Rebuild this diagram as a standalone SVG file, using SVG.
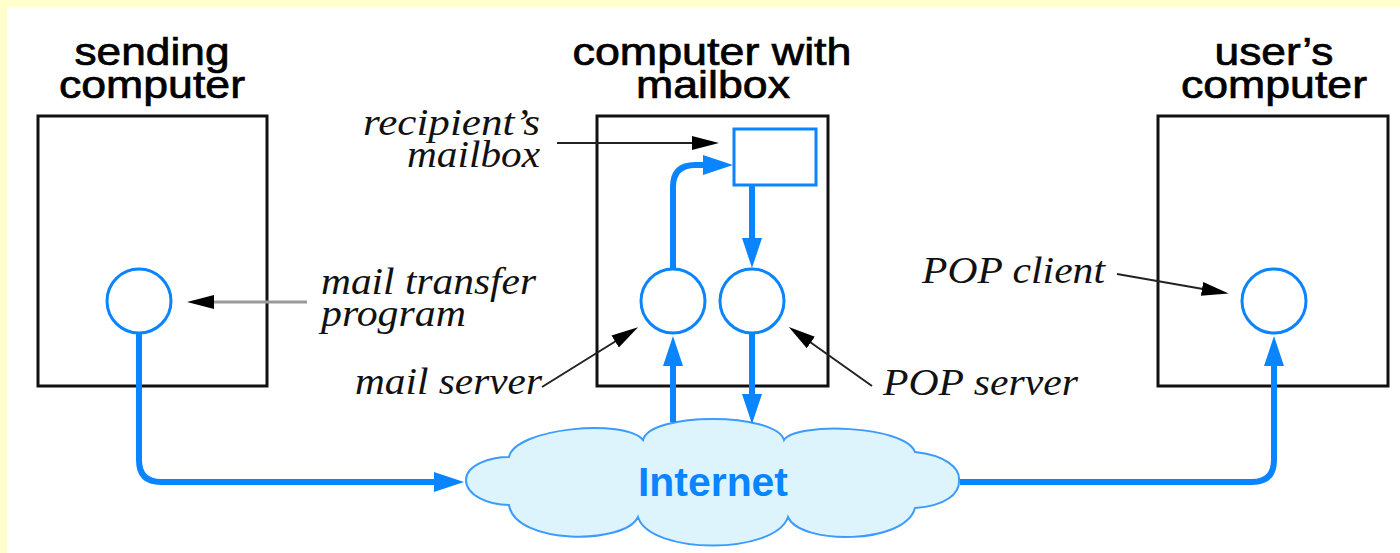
<svg xmlns="http://www.w3.org/2000/svg" width="1400" height="553" viewBox="0 0 1400 553">
<style>
.title{font-family:"Liberation Sans",Arial,sans-serif;font-size:38px;fill:#000;stroke:#000;stroke-width:0.7;text-anchor:middle}
.lbl{font-family:"Liberation Serif","Times New Roman",serif;font-style:italic;font-size:38px;fill:#111}
.box{fill:#fff;stroke:#111;stroke-width:3}
.proc{fill:#fff;stroke:#0A84FF;stroke-width:3}
.flow{fill:none;stroke:#0A84FF;stroke-width:6;marker-end:url(#ab)}
.ptr{fill:none;stroke:#222;stroke-width:2;marker-end:url(#ak)}
</style>
<defs>
<marker id="ab" markerUnits="userSpaceOnUse" markerWidth="32" markerHeight="22" viewBox="0 -11 32 22" refX="2" refY="0" orient="auto"><path d="M0,-10 L30,0 L0,10 Z" fill="#0A84FF"/></marker>
<marker id="ak" markerUnits="userSpaceOnUse" markerWidth="30" markerHeight="18" viewBox="0 -9 30 18" refX="1" refY="0" orient="auto"><path d="M0,-7 L27,0 L0,7 Z" fill="#000"/></marker>
</defs>
<rect x="0" y="0" width="1400" height="553" fill="#FFFFCC"/>
<rect x="7" y="7" width="1393" height="546" fill="#fff"/>

<g id="sending-computer">
<text class="title"><tspan x="152" y="65" textLength="155" lengthAdjust="spacingAndGlyphs">sending</tspan><tspan x="152" y="98" textLength="186" lengthAdjust="spacingAndGlyphs">computer</tspan></text>
<rect class="box" x="38" y="116" width="229" height="270"/>
</g>
<g id="mailbox-computer">
<text class="title"><tspan x="712" y="65" textLength="279" lengthAdjust="spacingAndGlyphs">computer with</tspan><tspan x="713" y="98" textLength="154" lengthAdjust="spacingAndGlyphs">mailbox</tspan></text>
<rect class="box" x="597" y="116" width="231" height="270"/>
</g>
<g id="users-computer">
<text class="title"><tspan x="1274" y="65" textLength="119" lengthAdjust="spacingAndGlyphs">user’s</tspan><tspan x="1274" y="98" textLength="186" lengthAdjust="spacingAndGlyphs">computer</tspan></text>
<rect class="box" x="1158" y="116" width="230" height="270"/>
</g>

<g id="internet">
<path d="M466,480 C466,465 490,457 509,457 C515,428 625,418 643,440 C650,412 775,412 784,440 C795,422 905,425 915,452 C945,455 960,468 959,480 C960,494 945,506 915,508 C905,545 800,545 788,517 C775,555 650,555 638,517 C625,545 515,545 509,505 C488,505 466,495 466,480 Z" fill="#DDF4FC" stroke="#3D9BFF" stroke-width="2"/>
<text x="713" y="496" font-family="Liberation Sans,Arial,sans-serif" font-weight="bold" font-size="41" fill="#0A84FF" text-anchor="middle" textLength="150" lengthAdjust="spacingAndGlyphs">Internet</text>
</g>

<g id="mail-transfer-program"><circle class="proc" cx="139" cy="301" r="32"/></g>
<g id="mail-server"><circle class="proc" cx="673" cy="301" r="32"/></g>
<g id="pop-server"><circle class="proc" cx="752" cy="301" r="32"/></g>
<g id="mailbox"><rect class="proc" x="734" y="129" width="82" height="56"/></g>
<g id="pop-client"><circle class="proc" cx="1274" cy="301" r="32"/></g>

<g id="connectors">
<path class="flow" d="M139,333 V460 Q139,482 161,482 H436"/>
<path class="flow" d="M673,422 V364"/>
<path class="flow" d="M673,269 V187 Q673,165 695,165 H705"/>
<path class="flow" d="M752,186 V240"/>
<path class="flow" d="M752,334 V396"/>
<path class="flow" d="M960,482 H1252 Q1274,482 1274,460 V364"/>
<path class="ptr" d="M557,143 H693"/>
<path class="ptr" style="stroke:#999;stroke-width:3" d="M307,302 H213"/>
<path class="ptr" d="M542,387 L616,341"/>
<path class="ptr" d="M872,386 L810,342"/>
<path class="ptr" d="M1117,274 L1203,289"/>
</g>

<g id="labels">
<text class="lbl"><tspan x="363" y="135" textLength="177" lengthAdjust="spacingAndGlyphs">recipient’s</tspan><tspan x="407" y="167" textLength="133" lengthAdjust="spacingAndGlyphs">mailbox</tspan></text>
<text class="lbl"><tspan x="321" y="294" textLength="215" lengthAdjust="spacingAndGlyphs">mail transfer</tspan><tspan x="321" y="326" textLength="145" lengthAdjust="spacingAndGlyphs">program</tspan></text>
<text class="lbl" x="355" y="394" textLength="187" lengthAdjust="spacingAndGlyphs">mail server</text>
<text class="lbl" x="883" y="395" textLength="195" lengthAdjust="spacingAndGlyphs">POP server</text>
<text class="lbl" x="922" y="283" textLength="183" lengthAdjust="spacingAndGlyphs">POP client</text>
</g>
</svg>
